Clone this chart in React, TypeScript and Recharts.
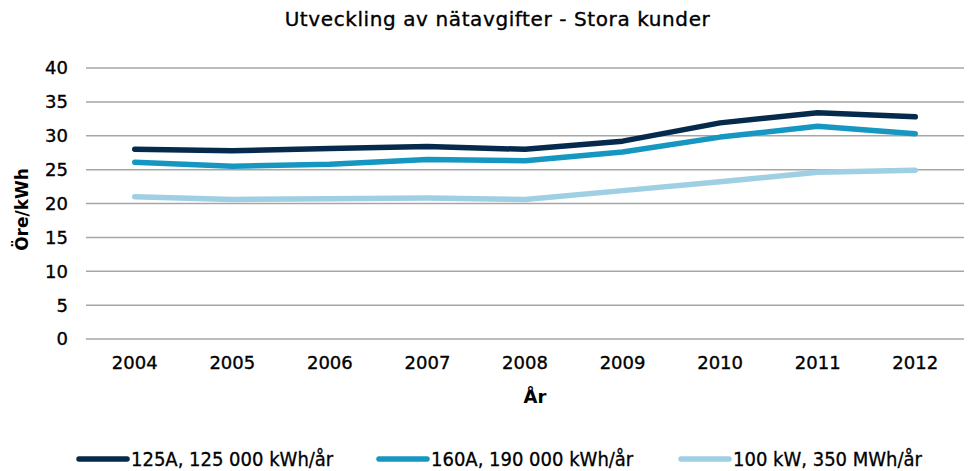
import { LineChart, Line, XAxis, YAxis, CartesianGrid } from 'recharts'

const years = ['2004', '2005', '2006', '2007', '2008', '2009', '2010', '2011', '2012']
const large125A = [28.0, 27.8, 28.1, 28.4, 28.0, 29.2, 31.9, 33.4, 32.8]
const large160A = [26.1, 25.5, 25.8, 26.5, 26.3, 27.6, 29.8, 31.4, 30.3]
const large100kW = [21.0, 20.6, 20.7, 20.8, 20.6, 21.9, 23.2, 24.6, 24.9]
const yTicks = [0, 5, 10, 15, 20, 25, 30, 35, 40]

const SERIES = [
    { key: 'a', name: '125A, 125 000 kWh/år', color: '#062a4b' },
    { key: 'b', name: '160A, 190 000 kWh/år', color: '#1697c2' },
    { key: 'c', name: '100 kW, 350 MWh/år', color: '#9ecfe3' },
]

const data = years.map((year, i) => ({
    year,
    a: large125A[i],
    b: large160A[i],
    c: large100kW[i],
}))

const FONT = "'DejaVu Sans', 'Liberation Sans', sans-serif"
const LEGEND_FONT = "'DejaVu Sans Condensed', 'DejaVu Sans', sans-serif"
const TICK = { fill: '#000', fontSize: 18, stroke: '#000', strokeWidth: 0.35 }

function LegendRow() {
    const starts = [76, 376, 678]
    return (
        <div style={{ position: 'absolute', top: 447, left: 0, width: 975, height: 24, fontFamily: LEGEND_FONT, fontSize: 20, color: '#000', WebkitTextStroke: '0.3px #000' }}>
            {SERIES.map((s, i) => (
                <div key={s.key} style={{ position: 'absolute', left: starts[i], top: 0, display: 'flex', alignItems: 'center', height: 24, whiteSpace: 'nowrap' }}>
                    <svg width={54} height={8} style={{ marginRight: 1 }}>
                        <line x1={3} y1={4} x2={51} y2={4} stroke={s.color} strokeWidth={5.5} strokeLinecap="round" />
                    </svg>
                    <span>{s.name}</span>
                </div>
            ))}
        </div>
    )
}

export default function App() {
    return (
        <div style={{ position: 'absolute', left: 0, top: 0, width: 975, height: 471, background: '#fff', fontFamily: FONT }}>
            <div style={{ position: 'absolute', top: 7, left: 0, width: 995, textAlign: 'center', fontSize: 20, letterSpacing: 0.6, color: '#000', WebkitTextStroke: '0.35px #000' }}>
                Utveckling av nätavgifter - Stora kunder
            </div>
            <LineChart width={975} height={471} data={data} margin={{ top: 68, right: 11, left: 0, bottom: 62 }}>
                <CartesianGrid vertical={false} stroke="#a6a6a6" strokeWidth={1.5} />
                <XAxis
                    dataKey="year"
                    axisLine={false}
                    tickLine={false}
                    padding={{ left: 48.75, right: 48.75 }}
                    tick={TICK}
                    tickMargin={11}
                    height={70}
                    label={{ value: 'År', position: 'insideBottom', offset: 6, dx: 10, fill: '#000', fontSize: 18, fontWeight: 'bold' }}
                />
                <YAxis
                    width={86}
                    domain={[0, 40]}
                    ticks={yTicks}
                    interval={0}
                    axisLine={false}
                    tickLine={false}
                    tick={TICK}
                    tickMargin={12}
                    label={{ value: 'Öre/kWh', angle: -90, position: 'center', dx: -21, dy: 6, fill: '#000', fontSize: 17, fontWeight: 'bold' }}
                />
                {SERIES.map(s => (
                    <Line
                        key={s.key}
                        type="linear"
                        dataKey={s.key}
                        name={s.name}
                        stroke={s.color}
                        strokeWidth={5.5}
                        strokeLinecap="round"
                        strokeLinejoin="round"
                        dot={false}
                        activeDot={false}
                        isAnimationActive={false}
                    />
                ))}
            </LineChart>
            <LegendRow />
        </div>
    )
}
